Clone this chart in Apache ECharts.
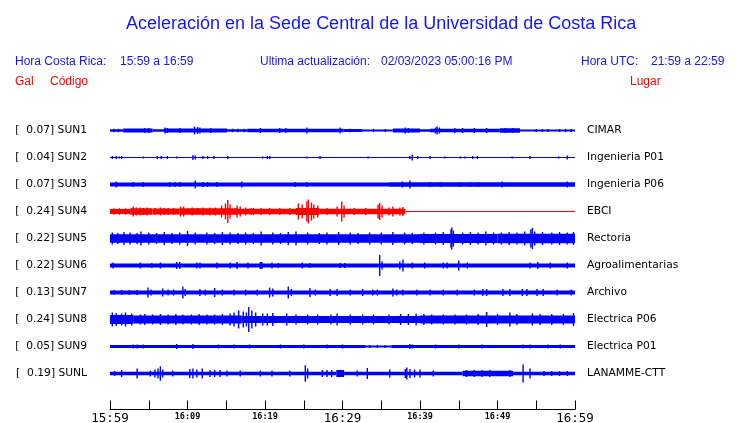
<!DOCTYPE html>
<html><head><meta charset="utf-8">
<script src="https://cdn.jsdelivr.net/npm/echarts@6/dist/echarts.min.js"></script>
<style>html,body{margin:0;padding:0;background:#fff;overflow:hidden}#c{width:740px;height:423px}</style>
</head><body><div id="c"></div>
<script>
// ---- data ----
const codes  = ['SUN1','SUN2','SUN3','SUN4','SUN5','SUN6','SUN7','SUN8','SUN9','SUNL'];
const galMax = [0.07, 0.04, 0.07, 0.24, 0.22, 0.22, 0.13, 0.24, 0.05, 0.19];
const places = ['CIMAR','Ingenieria P01','Ingenieria P06','EBCI','Rectoria','Agroalimentarias','Archivo','Electrica P06','Electrica P01','LANAMME-CTT'];
const tickLabels = ['15:59','16:09','16:19','16:29','16:39','16:49','16:59'];
const bigLabels = ['15:59','16:29','16:59'];
// envelope: [startMin, endMin, halfAmp]; spikes: [min, halfAmp]  (minutes after 15:59)
const sun1Bands = [[0,1.7,1.3],[1.7,5.5,2],[5.5,7.0,1.3],[7.0,15.1,2],[15.1,17.7,1.3],[17.7,30.1,1.8],[30.1,32.6,1.5],[32.6,36.5,1],[36.5,40.0,2],[40.0,41.3,1.3],[41.3,50.3,1.8],[50.3,52.9,2.2],[52.9,60,1]];
const sun1Spikes = [[0.5,1.8],[1.1,1.8],[4.5,2.4],[5.0,2.4],[7.1,3],[7.4,2.5],[9.0,2.4],[10.9,4],[11.3,3.5],[11.6,3],[13.0,2.4],[15.8,1.8],[16.5,1.8],[17.3,1.8],[19.4,2.4],[21.9,2.5],[22.7,2.4],[25.4,3],[29.7,3],[31,1.8],[34,1.6],[35.5,1.6],[38.1,3],[38.5,2.4],[42.0,3],[42.2,4],[42.5,3],[44.5,2.4],[45.5,2.4],[47,2.4],[48.6,2.4],[51,2.6],[52,2.6],[55,1.6],[55.8,1.6],[56.5,1.6],[58,1.6],[58.8,1.6],[59.5,1.6]];
const sun2Bands = [[0,60,0.5]];
const sun2Spikes = [[0.3,1.5],[0.8,1.5],[1.2,1],[1.5,1.5],[4.3,1],[6.1,1.5],[6.6,1.5],[7.4,1.5],[8.6,1],[10.7,2.5],[11.0,2],[12.0,1.5],[12.6,1.5],[13.4,1.5],[15.2,1.5],[19.7,1],[20.3,1.5],[20.6,1.5],[25.4,1],[27.1,1.5],[33.3,1],[38.7,1.5],[39.0,3],[39.7,1.5],[41.3,1.5],[43.2,1],[45.2,1],[45.8,1],[46.8,1.5],[47.4,1.5],[51.9,1],[54.2,1.5],[57.9,1],[59.0,2]];
const sun3Bands = [[0,36,2],[36,60,2.2]];
const sun3Spikes = [[0.8,3],[3.0,2.6],[4.3,2.6],[7.7,2.6],[8.4,2.6],[9.0,2.6],[11.0,4],[12.0,2.6],[12.6,2.6],[13.8,2.6],[17.0,3],[23.9,2.6],[25.4,2.6],[37.7,3],[38.7,4],[41.3,2.6],[42.6,2.6],[45.2,2.6],[46.5,2.6],[47.5,2.6],[50.6,3],[59.0,3]];
const sun4Bands = [[0,2.6,2.6],[2.6,5.5,3.2],[5.5,9.0,3],[9.0,16.5,3.2],[16.5,24,2.8],[24,27,3.6],[27,38.1,2.8],[38.1,60,0.5]];
const sun4Spikes = [[0.5,3.2],[1.2,3.2],[2.0,3.2],[3.0,5],[3.4,4],[3.9,4],[4.3,3.5],[4.8,4],[5.8,3.6],[6.5,4],[7.0,3.5],[7.5,3.5],[8.2,3.6],[9.1,5],[9.5,5],[10.6,4],[11.3,3.6],[12.0,4],[12.9,4],[13.6,4],[14.4,6],[14.9,8],[15.2,11.5],[15.5,7],[16.4,6],[16.8,5],[17.5,4],[18.2,3.5],[18.5,3.5],[19.5,3.4],[20.6,3.5],[21.9,3.4],[23.2,3.5],[24.3,8],[24.8,7],[25.4,10],[25.6,12],[26.0,9],[26.3,7],[26.8,6],[28.0,3.5],[29.3,5],[29.9,10],[30.2,6],[31.5,3.5],[33.0,3.5],[34.6,7],[34.8,8.5],[35.1,6],[36.0,4],[36.5,5],[37.4,4],[37.8,4.5]];
const sun5Bands = [[0,40,4.2],[40,50,4.4],[50,60,4.8]];
const sun5Spikes = [[0.3,6],[1.0,5.5],[1.8,6.5],[2.6,6],[3.5,5.5],[4.0,7],[5.0,6],[6.0,5.5],[7.0,6.5],[8.0,5.5],[9.0,6],[10.0,7.5],[11.0,6],[12.5,6],[13.5,5.5],[14.5,6.5],[15.5,6],[16.5,5.5],[17.5,6],[18.5,5.5],[19.5,7],[21,6],[22,5.5],[23,6.5],[24,7],[25.5,6],[27,5.5],[28,6],[29.5,6.5],[31,6],[32,5.5],[33.5,6],[35,6],[36.5,6.5],[38,6],[39,5.5],[40.5,6],[42,6],[43,6.5],[44.0,9],[44.1,11],[44.3,8],[45.5,6],[46.5,6.5],[47.5,6],[48.5,7],[49.5,6],[50.5,6],[51.5,6.5],[52.5,6],[53.5,7],[54.3,9],[54.5,10.5],[54.8,7],[55.8,6.5],[57,6],[58,6.5],[59,6],[59.8,6.5]];
const sun6Bands = [[0,60,2]];
const sun6Spikes = [[0.4,3],[3.9,3],[5.4,2.5],[6.5,3],[8.6,3.5],[9.0,3.5],[11.2,3],[11.6,3],[13.8,3],[15.5,3],[16.4,3.5],[17.8,3],[19.4,3.5],[19.6,3.5],[20.9,3],[21.7,2.5],[24.8,3],[25.8,2.5],[29.7,2.5],[30.3,2.5],[34.8,10.5],[35.1,4],[37.4,4],[37.8,6],[39.0,3],[40.6,3],[43.0,3],[43.5,3],[45.0,5],[46.1,3],[54.2,3],[55.2,3.5],[56.8,3],[59.0,3]];
const sun7Bands = [[0,60,1.9]];
const sun7Spikes = [[0.5,2.5],[1.5,2.5],[2.5,2.5],[3.5,2.5],[4.9,5],[5.3,3],[6.8,4],[7.5,3],[8.2,3],[9.4,6],[9.7,3.5],[11.6,3.5],[12.3,3],[13.5,4.5],[14.5,3],[16,3],[17.5,3],[19,3],[20.6,5],[21.0,4],[23.0,6],[23.4,3.5],[25.8,4.5],[26.5,3],[28.4,3.5],[29.3,3.5],[31,3],[32.6,3.5],[33.9,3],[34.5,3],[36.5,4],[37.0,3],[37.8,3],[39.6,3],[41.3,3],[43.0,3],[44.8,3],[47,3],[48.1,3.5],[48.6,3.5],[50.7,3.5],[51.6,3.5],[53.2,3.5],[53.8,3.5],[55.1,3.5],[55.9,3.5],[57.7,3],[59.5,3]];
const sun8Bands = [[0,3,4.5],[3,17,4],[17,40,3.6],[40,60,4]];
const sun8Spikes = [[0.3,7],[0.8,6.5],[1.5,6],[2.0,7],[2.8,6],[3.9,5],[4.5,5.5],[5.5,5],[6.5,5.5],[7.5,5],[8.5,5.5],[9.4,5],[10.5,5],[11.5,5.5],[12.5,5],[13.5,5],[14.5,5.5],[15.5,6],[16.0,7],[16.6,9],[17.2,8],[17.6,7],[17.9,12.5],[18.3,9],[18.8,7],[19.7,6],[20.3,6],[21.0,6.5],[22.8,6],[24,5],[25.5,5],[26.8,5],[28.5,5],[29.3,6],[31,5],[32.6,5],[34,5],[36,5],[37.5,5.5],[38.5,5.5],[39.5,6],[40.5,5.5],[41.5,5],[43,5],[44.5,5],[46,5],[47.5,5.5],[48.6,7.5],[50,5.5],[51.6,7],[52.5,5.5],[54.5,6],[55.5,5.5],[57,5.5],[58.5,5.5],[59.8,6.5]];
const sun9Bands = [[0,33,1.6],[33,36.3,1],[36.3,60,1.5]];
const sun9Spikes = [[3.0,2],[3.5,2],[4.3,2],[8.6,2.5],[10.7,2.5],[14,2],[16,2],[18,2],[22,2],[25,2],[28,2],[30,2],[33.5,1.5],[34.5,1.5],[35.5,1.5],[38.7,2.5],[39.0,2],[42,2],[45,2],[48,2],[53.3,2],[54.2,2],[56.5,2],[58.1,2]];
const sunLBands = [[0,29.2,1.8],[29.2,30.2,3.5],[30.2,45.5,1.8],[45.5,52,2.8],[52,60,1.8]];
const sunLSpikes = [[0.6,2.5],[1.5,3.5],[3.5,5],[5.2,3],[5.8,4],[6.2,5],[6.5,7.3],[6.8,4],[8.1,3],[10.3,4.5],[10.7,5],[11.2,4],[11.9,5],[12.9,3.5],[13.5,3.5],[14.2,3.5],[15.1,3],[16.8,3],[19.4,3],[20.9,3],[23.2,3],[25.2,8.3],[25.5,5],[27.4,3.5],[28.0,3.5],[28.6,3.5],[31.9,3],[33.2,5.5],[36.1,4],[38.1,4.5],[38.3,6],[38.7,4.5],[39.3,4],[40.0,4],[41.7,3],[46.0,3.5],[47.0,3.5],[48,3.5],[49.0,3.5],[51.6,3.5],[53.3,9],[54.2,5],[56,2.5],[57,2.5],[58,2.5],[59,2.5]];

const allBands  = [sun1Bands,sun2Bands,sun3Bands,sun4Bands,sun5Bands,sun6Bands,sun7Bands,sun8Bands,sun9Bands,sunLBands];
const allSpikes = [sun1Spikes,sun2Spikes,sun3Spikes,sun4Spikes,sun5Spikes,sun6Spikes,sun7Spikes,sun8Spikes,sun9Spikes,sunLSpikes];

// ---- build ----
const AMP_PER_ROW = 27;
const BLUE = '#0000ff', RED = '#ff0000', TXT_BLUE = '#1414ff';
const rowColor = r => (r === 3 ? RED : BLUE);
const bandData = [], spikeData = [];
allBands.forEach((arr, r) => arr.forEach(b => bandData.push([b[0], b[1], r, b[2]])));
allSpikes.forEach((arr, r) => arr.forEach(s => spikeData.push([s[0], r, s[1]])));

function renderBand(params, api) {
  const r = api.value(2), hw = api.value(3) / AMP_PER_ROW;
  const a = api.coord([api.value(0), r - hw]);
  const b = api.coord([api.value(1), r + hw]);
  return {type: 'rect', shape: {x: a[0], y: Math.min(a[1], b[1]), width: b[0] - a[0], height: Math.abs(b[1] - a[1])},
          style: {fill: rowColor(r)}};
}
function renderSpike(params, api) {
  const r = api.value(1), hw = api.value(2) / AMP_PER_ROW;
  const a = api.coord([api.value(0), r - hw]);
  const b = api.coord([api.value(0), r + hw]);
  return {type: 'rect', shape: {x: a[0] - 0.7, y: Math.min(a[1], b[1]), width: 1.4, height: Math.abs(b[1] - a[1])},
          style: {fill: rowColor(r)}};
}

const chart = echarts.init(document.getElementById('c'), null, {renderer: 'canvas', width: 740, height: 423});
const headFont = '12px "Liberation Sans", Arial, sans-serif';
function txt(text, x, y, fill) {
  return {type: 'text', x: x, y: y, style: {text: text, fill: fill, font: headFont, textVerticalAlign: 'middle', verticalAlign: 'middle'}, silent: true};
}
const yLabelLeft = v => (Number.isInteger(v) && v >= 0 && v < codes.length) ? '[  ' + galMax[v].toFixed(2) + '] ' + codes[v] : '';
const yLabelRight = v => (Number.isInteger(v) && v >= 0 && v < codes.length) ? places[v] : '';

chart.setOption({
  animation: false,
  backgroundColor: '#fff',
  title: {text: 'Aceleración en la Sede Central de la Universidad de Costa Rica', left: 121, top: 10,
          textStyle: {color: TXT_BLUE, fontSize: 18, fontWeight: 'normal', fontFamily: '"Liberation Sans", Arial, sans-serif'}},
  graphic: [
    txt('Hora Costa Rica:', 15, 62, TXT_BLUE),
    txt('15:59 a 16:59', 120, 62, TXT_BLUE),
    txt('Ultima actualización:', 260, 62, TXT_BLUE),
    txt('02/03/2023 05:00:16 PM', 381, 62, TXT_BLUE),
    txt('Hora UTC:', 581, 62, TXT_BLUE),
    txt('21:59 a 22:59', 651, 62, TXT_BLUE),
    txt('Gal', 15, 82, RED),
    txt('Código', 50, 82, RED),
    txt('Lugar', 630, 82, RED)
  ],
  grid: {left: 110, right: 165, top: 103.5, bottom: 22.5, containLabel: false, outerBoundsMode: 'none'},
  xAxis: {type: 'value', min: 0, max: 60, interval: 5, position: 'bottom', offset: 9,
    axisLine: {show: true, onZero: false, lineStyle: {color: '#000', width: 1}},
    axisTick: {show: true, inside: true, length: 9, lineStyle: {color: '#000'}},
    splitLine: {show: false},
    axisLabel: {show: true, showMinLabel: true, showMaxLabel: true, margin: 3,
      formatter: v => {
        if (v % 10 !== 0) return '';
        const s = tickLabels[v / 10];
        return bigLabels.includes(s) ? '{big|' + s + '}' : '{small|' + s + '}';
      },
      rich: {
        big: {fontFamily: '"DejaVu Sans Mono", monospace', fontSize: 12.5, color: '#000'},
        small: {fontFamily: '"DejaVu Sans Mono", monospace', fontSize: 8.5, fontWeight: 'bold', color: '#000'}
      }}
  },
  yAxis: [
    {type: 'value', inverse: true, min: -1, max: 10, interval: 1, position: 'left',
     axisLine: {show: false}, axisTick: {show: false}, splitLine: {show: false},
     axisLabel: {formatter: yLabelLeft, margin: 23, color: '#000', fontSize: 10.7, fontFamily: '"DejaVu Sans", sans-serif'}},
    {type: 'value', inverse: true, min: -1, max: 10, interval: 1, position: 'right',
     axisLine: {show: false}, axisTick: {show: false}, splitLine: {show: false},
     axisLabel: {formatter: yLabelRight, margin: 12, color: '#000', fontSize: 10.7, fontFamily: '"DejaVu Sans", sans-serif'}}
  ],
  series: [
    {type: 'custom', renderItem: renderBand, data: bandData, encode: {x: [0, 1], y: 2}, silent: true, clip: true},
    {type: 'custom', renderItem: renderSpike, data: spikeData, encode: {x: 0, y: 1}, silent: true, clip: true}
  ]
});
</script></body></html>
